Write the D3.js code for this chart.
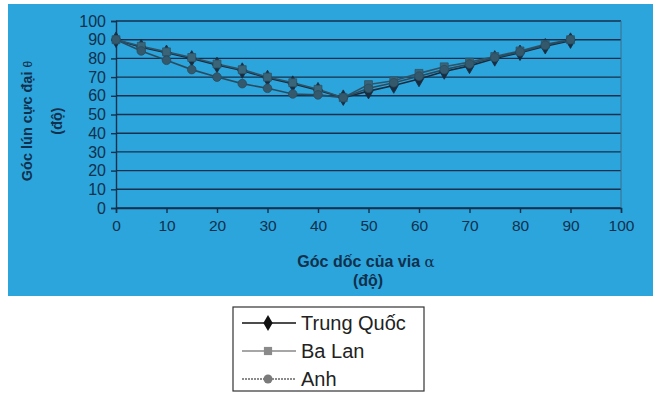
<!DOCTYPE html>
<html><head><meta charset="utf-8">
<script src="https://cdn.jsdelivr.net/npm/d3@7"></script>
<style>body{margin:0;background:#fff;}svg{display:block;}</style>
</head><body>
<script>
const alpha = [0,5,10,15,20,25,30,35,40,45,50,55,60,65,70,75,80,85,90];
const trungQuoc = [90,86,83,80,76.5,73.5,69.5,66.5,63,59,62.5,65.5,69,73,76,80,83,86.5,89.5];
const baLan = [90,86.5,83.5,80.5,77,74,70,67,63.5,59,66,68,72,75.5,78,81,84,87.5,90];
const anh = [90,84,79,74,70,66.5,64,61,60.5,59,64,67,70.5,74,77,80.5,83.5,87,90];
const xTicks = [0,10,20,30,40,50,60,70,80,90,100];
const yTicks = [0,10,20,30,40,50,60,70,80,90,100];
const seriesNames = ["Trung Quốc","Ba Lan","Anh"];

const W=657,H=393;
const FONT="Liberation Sans, Arial, sans-serif";
const svg=d3.select("body").append("svg").attr("width",W).attr("height",H);
svg.append("rect").attr("x",8).attr("y",4).attr("width",645).attr("height",292).attr("fill","#2ca5dc");

const x=d3.scaleLinear().domain([0,100]).range([116,621]);
const y=d3.scaleLinear().domain([0,100]).range([208,21]);
const gridC="#14304c";
const txtC="#10304c";

svg.append("g").selectAll("line").data(yTicks).join("line")
  .attr("x1",x(0)).attr("x2",x(100)).attr("y1",d=>y(d)).attr("y2",d=>y(d))
  .attr("stroke",gridC).attr("stroke-width",1.4);
svg.append("line").attr("x1",x(100)).attr("x2",x(100)).attr("y1",y(100)).attr("y2",y(0)).attr("stroke","#3a6f8e").attr("stroke-width",1);

const yAxis=svg.append("g").attr("transform",`translate(${x(0)},0)`)
  .call(d3.axisLeft(y).tickValues(yTicks).tickSize(5).tickPadding(5));
const xAxis=svg.append("g").attr("transform",`translate(0,${y(0)})`)
  .call(d3.axisBottom(x).tickValues(xTicks).tickSize(5).tickPadding(7));
[yAxis,xAxis].forEach(a=>{
  a.selectAll("path").attr("stroke",gridC).attr("stroke-width",1.4);
  a.selectAll("line").attr("stroke",gridC).attr("stroke-width",1.4);
  a.selectAll("text").attr("fill",txtC).style("font-family",FONT);
});
yAxis.selectAll("text").style("font-size","16px");
xAxis.selectAll("text").style("font-size","15.5px");

const series=[
  {name:seriesNames[0],vals:trungQuoc,color:"#182c40",mfill:"#182c40",shape:d3.symbolDiamond,size:70},
  {name:seriesNames[1],vals:baLan,color:"#2f5468",mfill:"#3a6478",shape:d3.symbolSquare,size:62},
  {name:seriesNames[2],vals:anh,color:"#2a4c60",mfill:"#34586c",shape:d3.symbolCircle,size:58}
];
const line=d3.line().x((d,i)=>x(alpha[i])).y(d=>y(d));
series.forEach(s=>{
  svg.append("path").datum(s.vals).attr("d",line).attr("fill","none").attr("stroke",s.color).attr("stroke-width",1.6);
});
series.forEach(s=>{
  svg.append("g").selectAll("path").data(s.vals).join("path")
    .attr("transform",(d,i)=>`translate(${x(alpha[i])},${y(d)})`)
    .attr("d",d3.symbol().type(s.shape).size(s.size))
    .attr("fill",s.mfill).attr("stroke",s.color).attr("stroke-width",0.8);
});

const yt=svg.append("text").attr("transform","translate(32,121) rotate(-90)").attr("text-anchor","middle")
  .attr("fill",txtC).style("font-family",FONT).style("font-size","14.5px").style("font-weight","bold");
yt.append("tspan").text("Góc lún cực đại ");
yt.append("tspan").text("θ").style("font-weight","normal").style("font-size","12px");
svg.append("text").attr("transform","translate(62,121) rotate(-90)").attr("text-anchor","middle")
  .attr("fill",txtC).style("font-family",FONT).style("font-size","14.5px").style("font-weight","bold").text("(độ)");

const xt=svg.append("text").attr("x",366).attr("y",267).attr("text-anchor","middle")
  .attr("fill",txtC).style("font-family",FONT).style("font-size","16px").style("font-weight","bold");
xt.append("tspan").text("Góc dốc của via ");
xt.append("tspan").text("α").style("font-weight","normal").style("font-family","DejaVu Serif, serif").style("font-size","15px");
svg.append("text").attr("x",368).attr("y",286).attr("text-anchor","middle")
  .attr("fill",txtC).style("font-family",FONT).style("font-size","16px").style("font-weight","bold").text("(độ)");

const lg=svg.append("g");
lg.append("rect").attr("x",233).attr("y",307).attr("width",191).attr("height",84).attr("fill","#fff").attr("stroke","#333").attr("stroke-width",1.2);
const legC=[{c:"#111",f:"#111"},{c:"#888",f:"#8a8a8a"},{c:"#666",f:"#7a7a7a"}];
series.forEach((s,i)=>{
  const yy=323+i*28;
  lg.append("line").attr("x1",242).attr("x2",296).attr("y1",yy).attr("y2",yy).attr("stroke",legC[i].c).attr("stroke-width",i===0?1.6:1.3)
    .attr("stroke-dasharray",i===2?"2,1":null);
  lg.append("path").attr("transform",`translate(268,${yy})`).attr("d",d3.symbol().type(s.shape).size(s.size+5)).attr("fill",legC[i].f);
  lg.append("text").attr("x",301).attr("y",yy+7).attr("fill","#222").style("font-family",FONT).style("font-size","20px").text(s.name);
});
</script>
</body></html>
